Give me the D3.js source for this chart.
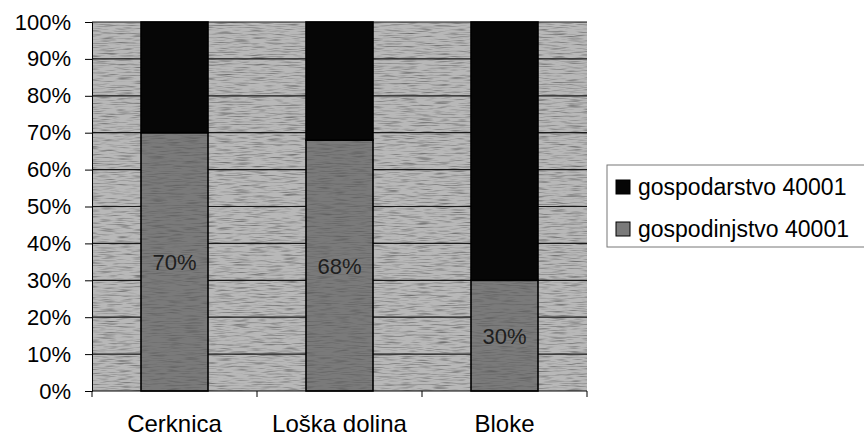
<!DOCTYPE html>
<html><head><meta charset="utf-8">
<script src="https://cdn.jsdelivr.net/npm/d3@7"></script>
<style>body{margin:0;background:#fff}svg{display:block}text{font-family:"Liberation Sans",Arial,sans-serif;}</style>
</head><body>
<svg id="c" width="864" height="438"></svg>
<script>
const categories = ["Cerknica", "Loška dolina", "Bloke"];
const seriesNames = ["gospodarstvo 40001", "gospodinjstvo 40001"];
const gospodinjstvo = [70, 68, 30];
const gospodarstvo = [30, 32, 70];
const yTicks = [0,10,20,30,40,50,60,70,80,90,100];

const svg = d3.select("#c");
const defs = svg.append("defs");
function noise(id, freq, seed) {
  const f = defs.append("filter").attr("id", id).attr("x",0).attr("y",0).attr("width",1).attr("height",1);
  f.append("feTurbulence").attr("type","fractalNoise").attr("baseFrequency",freq).attr("numOctaves",2).attr("seed",seed).attr("result","n");
  f.append("feColorMatrix").attr("in","n").attr("type","matrix")
    .attr("values","0 0 0 0 0  0 0 0 0 0  0 0 0 0 0  0 0 0 -1.4 0.75").attr("result","a");
  f.append("feComposite").attr("in","a").attr("in2","SourceGraphic").attr("operator","in");
}
noise("nz", "0.06 0.9", 3);

const m = {l: 92, r: 587, t: 22, b: 391};
const x = d3.scaleBand().domain(categories).range([m.l, m.r]).paddingInner(0.594).paddingOuter(0.297);
const y = d3.scaleLinear().domain([0, 100]).range([m.b, m.t]);

// plot background
svg.append("rect").attr("x", m.l).attr("y", m.t).attr("width", m.r - m.l).attr("height", m.b - m.t).attr("fill", "#b8b8b8");
svg.append("rect").attr("x", m.l).attr("y", m.t).attr("width", m.r - m.l).attr("height", m.b - m.t).attr("fill", "#fff").attr("filter","url(#nz)").attr("opacity",0.65);

// gridlines
svg.append("g").selectAll("line").data(yTicks.slice(1)).join("line")
  .attr("x1", m.l).attr("x2", m.r).attr("y1", d => y(d)).attr("y2", d => y(d))
  .attr("stroke", "#1a1a1a").attr("stroke-width", 1.2);

// stacked bars
const rows = categories.map((c, i) => ({cat: c, gospodinjstvo: gospodinjstvo[i], gospodarstvo: gospodarstvo[i]}));
const stack = d3.stack().keys(["gospodinjstvo", "gospodarstvo"])(rows);
const colors = {gospodinjstvo: "#7a7a7a", gospodarstvo: "#060606"};
svg.append("g").selectAll("g").data(stack).join("g")
  .attr("fill", d => colors[d.key])
  .selectAll("rect").data(d => d).join("rect")
  .attr("x", d => x(d.data.cat)).attr("width", x.bandwidth())
  .attr("y", d => y(d[1])).attr("height", d => y(d[0]) - y(d[1]))
  .attr("stroke", "#000").attr("stroke-width", 1.6);
// texture on gray bars
svg.append("g").selectAll("rect").data(stack[0]).join("rect")
  .attr("x", d => x(d.data.cat)).attr("width", x.bandwidth())
  .attr("y", d => y(d[1])).attr("height", d => y(d[0]) - y(d[1]))
  .attr("fill", "#000").attr("filter","url(#nz)").attr("opacity",0.35);

// data labels
svg.append("g").selectAll("text").data(stack[0]).join("text")
  .attr("x", d => x(d.data.cat) + x.bandwidth() / 2)
  .attr("y", d => (y(d[0]) + y(d[1])) / 2 + 8)
  .attr("text-anchor", "middle").attr("font-size", 22).attr("fill", "#1e1e1e")
  .text(d => d.data.gospodinjstvo + "%");

// y axis
const yAxis = svg.append("g").attr("transform", `translate(${m.l},0)`)
  .call(d3.axisLeft(y).tickValues(yTicks).tickFormat(d => d + "%").tickSize(7).tickPadding(14));
yAxis.select(".domain").attr("stroke", "#000");
yAxis.selectAll("text").attr("font-size", 22).attr("fill", "#000").attr("font-family", "Liberation Sans, Arial, sans-serif");

// x axis
const xb = svg.append("g").attr("transform", `translate(0,${m.b})`);
xb.append("line").attr("x1", m.l).attr("x2", m.r).attr("stroke", "#000");
const bounds = [0, 1, 2, 3].map(i => m.l + i * x.step());
xb.selectAll("line.t").data(bounds).join("line").attr("class","t")
  .attr("x1", d => d).attr("x2", d => d).attr("y1", 0).attr("y2", 6).attr("stroke", "#000");
xb.selectAll("text").data(categories).join("text")
  .attr("x", d => x(d) + x.bandwidth() / 2).attr("y", 41)
  .attr("text-anchor", "middle").attr("font-size", 24).attr("fill", "#000").text(d => d);

// legend
const lg = svg.append("g");
lg.append("rect").attr("x", 607).attr("y", 165).attr("width", 270).attr("height", 82)
  .attr("fill", "#fff").attr("stroke", "#777").attr("stroke-width", 1);
const legendItems = [{name: seriesNames[0], color: colors.gospodarstvo}, {name: seriesNames[1], color: colors.gospodinjstvo}];
lg.selectAll("rect.k").data(legendItems).join("rect").attr("class","k")
  .attr("x", 616).attr("y", (d, i) => 180 + i * 42).attr("width", 14).attr("height", 14)
  .attr("fill", d => d.color).attr("stroke", "#000");
lg.selectAll("text").data(legendItems).join("text")
  .attr("x", 638).attr("y", (d, i) => 195 + i * 42).attr("font-size", 23).attr("fill", "#000")
  .text(d => d.name);
</script>
</body></html>
